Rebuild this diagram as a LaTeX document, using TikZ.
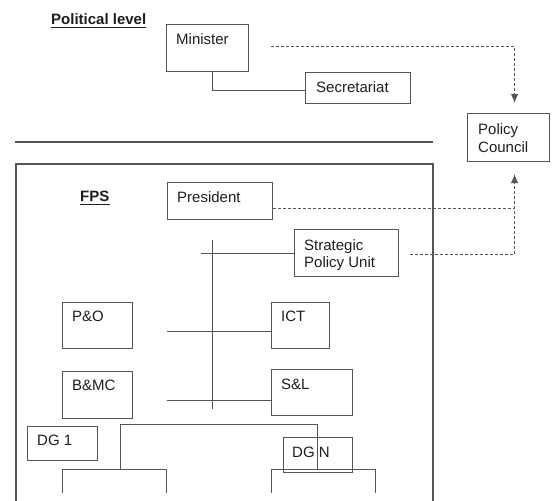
\documentclass[tikz,border=0pt]{standalone}
\usepackage{fontspec}
\setmainfont{Liberation Sans}
\usetikzlibrary{arrows.meta}
\definecolor{linec}{RGB}{85,85,85}
\definecolor{textc}{RGB}{30,30,30}
\begin{document}
\begin{tikzpicture}[x=1pt,y=-1pt,
  bx/.style={draw=linec, line width=1.1pt, inner sep=0pt, anchor=north west},
  txt/.style={font=\fontsize{15}{18}\selectfont, text=textc, inner sep=0pt, anchor=base west},
  ttl/.style={font=\fontsize{15}{18}\selectfont\bfseries, text=textc, inner sep=0pt, anchor=base west},
  conn/.style={draw=linec, line width=1pt},
  dsh/.style={draw=linec, line width=1.1pt, dash pattern=on 3pt off 2pt},
  tip/.style={-{Latex[length=9pt,width=7.5pt]}}]
\useasboundingbox (0,0) rectangle (555,501);
% titles
\node[ttl] (pl) at (51,24) {Political level};
\draw[textc, line width=1.3pt] ([yshift=-3.5pt]pl.base west) -- ([yshift=-3.5pt]pl.base east);
\node[ttl] (fps) at (80,201) {FPS};
\draw[textc, line width=1.3pt] ([yshift=-3.5pt]fps.base west) -- ([yshift=-3.5pt]fps.base east);
% separator and FPS frame
\draw[linec, line width=1.4pt] (15,142) -- (433,142);
\draw[linec, line width=1.2pt] (16,501) -- (16,164) -- (433,164) -- (433,501);
% boxes
\node[bx, minimum width=82pt, minimum height=47pt] (min) at (166,24) {};
\node[txt] (mint) at (176,44) {Minister};
\node[bx, minimum width=105pt, minimum height=31pt] (sec) at (305,72) {};
\node[txt] (sect) at (316,92) {Secretariat};
\node[bx, minimum width=82pt, minimum height=48pt] (pc) at (467,113) {};
\node[txt] (pct1) at (478,134) {Policy};
\node[txt] (pct2) at (478,152) {Council};
\node[bx, minimum width=105pt, minimum height=37pt] (pres) at (167,182) {};
\node[txt] (prest) at (177,202) {President};
\node[bx, minimum width=104pt, minimum height=47pt] (spu) at (294,229) {};
\node[txt] (spu1) at (304,250) {Strategic};
\node[txt] (spu2) at (304,267) {Policy Unit};
\node[bx, minimum width=70pt, minimum height=46pt] (po) at (62,302) {};
\node[txt] (pot) at (72,321) {P\&O};
\node[bx, minimum width=58pt, minimum height=46pt] (ict) at (271,302) {};
\node[txt] (ictt) at (281,321) {ICT};
\node[bx, minimum width=70pt, minimum height=47pt] (bmc) at (62,371) {};
\node[txt] (bmct) at (72,390) {B\&MC};
\node[bx, minimum width=81pt, minimum height=46pt] (sl) at (271,369) {};
\node[txt] (slt) at (281,389) {S\&L};
\node[bx, minimum width=70pt, minimum height=34pt] (dg1) at (27,426) {};
\node[txt] (dg1t) at (37,445) {DG 1};
\node[bx, minimum width=69pt, minimum height=35pt] (dgn) at (283,437) {};
\node[txt] (dgnt) at (292,457) {DG N};
% solid connectors
\draw[conn] ([xshift=5pt]min.south) |- ([yshift=-2.5pt]sec.west);
\coordinate (vt) at (212,240);
\coordinate (vb) at (212,409);
\draw[conn] (vt) -- (vb);
\draw[conn] ([xshift=-93pt]spu.west) -- (spu.west);
\draw[conn] ([shift={(-104pt,-6pt)}]ict.west) -- ([yshift=-6pt]ict.west);
\draw[conn] ([shift={(-104pt,-8pt)}]sl.west) -- ([yshift=-8pt]sl.west);
\coordinate (dgl) at (120,469);
\coordinate (dgr) at (317,469);
\draw[conn] (dgl) -- ++(0,-45) -| (dgr);
\coordinate (ga1) at (62,493);
\coordinate (ga2) at (166,493);
\coordinate (gb1) at (271,493);
\coordinate (gb2) at (375,493);
\draw[conn] (ga1) -- ++(0,-24) -| (ga2);
\draw[conn] (gb1) -- ++(0,-24) -| (gb2);
% dashed connectors
\coordinate (pcout) at ([xshift=6pt,yshift=10pt]pc.north);
\coordinate (pcin) at ([xshift=6pt,yshift=-12pt]pc.south);
\draw[dsh] ([xshift=22pt,yshift=1.5pt]min.east) -| ([yshift=8pt]pcout);
\draw[conn, tip] ([yshift=9.5pt]pcout) -- (pcout);
\draw[dsh] ([xshift=11pt,yshift=-1.5pt]spu.east) -| ([yshift=-8pt]pcin);
\draw[conn, tip] ([yshift=-9.5pt]pcin) -- (pcin);
\draw[dsh] ([yshift=-7.5pt]pres.east) -- ([yshift=-7.5pt]pres.east -| pcin);
\end{tikzpicture}
\end{document}
